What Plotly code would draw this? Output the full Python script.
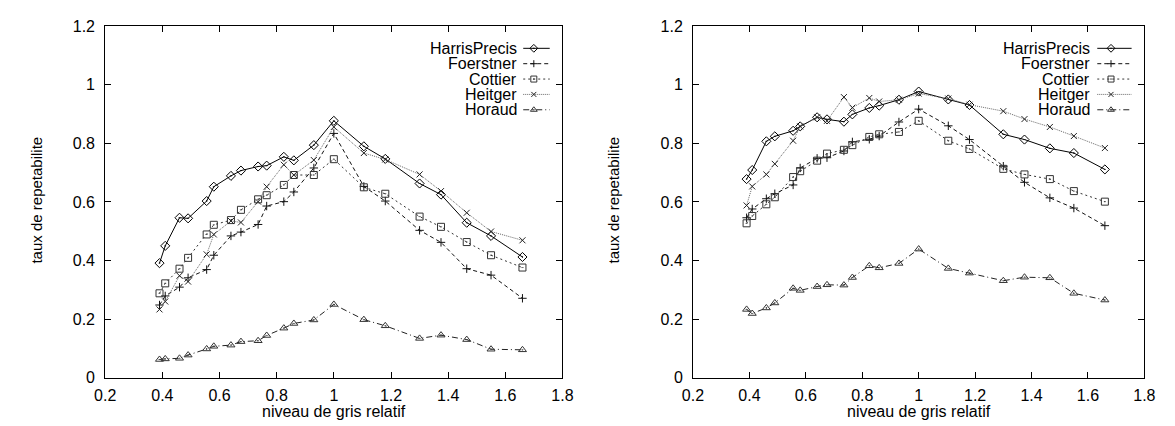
import plotly.graph_objects as go

# ---------------- data ----------------
x_niveau = [0.39, 0.41, 0.46, 0.49, 0.555, 0.58, 0.64, 0.675, 0.735, 0.765, 0.825,
            0.86, 0.93, 1.0, 1.105, 1.18, 1.30, 1.375, 1.465, 1.55, 1.66]

series_names = ["HarrisPrecis", "Foerstner", "Cottier", "Heitger", "Horaud"]

harris_L = [0.391, 0.450, 0.546, 0.544, 0.603, 0.652, 0.689, 0.707, 0.721, 0.724, 0.754,
            0.742, 0.794, 0.877, 0.790, 0.747, 0.663, 0.625, 0.529, 0.484, 0.412]
foerstner_L = [0.248, 0.279, 0.309, 0.341, 0.369, 0.418, 0.484, 0.497, 0.523, 0.586, 0.601,
               0.634, 0.716, 0.834, 0.653, 0.603, 0.503, 0.462, 0.372, 0.350, 0.271]
cottier_L = [0.288, 0.322, 0.372, 0.409, 0.489, 0.522, 0.538, 0.573, 0.609, 0.623, 0.658,
             0.692, 0.692, 0.746, 0.650, 0.628, 0.550, 0.515, 0.463, 0.418, 0.376]
heitger_L = [0.233, 0.260, 0.348, 0.328, 0.421, 0.489, 0.535, 0.530, 0.601, 0.652, 0.727,
             0.692, 0.743, 0.856, 0.767, 0.745, 0.694, 0.637, 0.563, 0.499, 0.469]
horaud_L = [0.062, 0.064, 0.066, 0.077, 0.098, 0.107, 0.111, 0.123, 0.126, 0.144, 0.169,
            0.185, 0.197, 0.250, 0.198, 0.177, 0.134, 0.145, 0.130, 0.097, 0.095]

harris_R = [0.678, 0.709, 0.807, 0.824, 0.843, 0.858, 0.889, 0.882, 0.874, 0.899, 0.921,
            0.929, 0.949, 0.977, 0.950, 0.931, 0.831, 0.813, 0.783, 0.767, 0.711]
foerstner_R = [0.546, 0.576, 0.611, 0.628, 0.658, 0.716, 0.749, 0.751, 0.774, 0.805, 0.814,
               0.825, 0.873, 0.917, 0.860, 0.813, 0.722, 0.667, 0.614, 0.579, 0.519]
cottier_R = [0.527, 0.552, 0.592, 0.616, 0.685, 0.705, 0.741, 0.765, 0.778, 0.794, 0.822,
             0.831, 0.839, 0.877, 0.809, 0.781, 0.713, 0.694, 0.678, 0.637, 0.601]
heitger_R = [0.588, 0.653, 0.694, 0.730, 0.809, 0.858, 0.889, 0.877, 0.958, 0.922, 0.955,
             0.943, 0.949, 0.970, 0.953, 0.932, 0.910, 0.883, 0.856, 0.825, 0.784]
horaud_R = [0.233, 0.219, 0.238, 0.255, 0.305, 0.298, 0.311, 0.317, 0.316, 0.342, 0.382,
            0.375, 0.390, 0.439, 0.373, 0.357, 0.331, 0.343, 0.341, 0.288, 0.265]

x_ticks = [0.2, 0.4, 0.6, 0.8, 1.0, 1.2, 1.4, 1.6, 1.8]
x_tick_labels = ["0.2", "0.4", "0.6", "0.8", "1", "1.2", "1.4", "1.6", "1.8"]
y_ticks = [0, 0.2, 0.4, 0.6, 0.8, 1.0, 1.2]
y_tick_labels = ["0", "0.2", "0.4", "0.6", "0.8", "1", "1.2"]

x_title = "niveau de gris relatif"
y_title = "taux de repetabilite"

# ---------------- styles ----------------
W, H = 1175, 426
FONT = "Liberation Sans, Arial, Helvetica, sans-serif"

styles = [
    dict(color="#000000", mcolor="#000000", dash="solid", symbol="diamond-open-dot", size=7),
    dict(color="#111111", mcolor="#111111", dash="4px,3px", symbol="cross-thin-open", size=6),
    dict(color="#333333", mcolor="#333333", dash="2px,3px", symbol="square-open-dot", size=7),
    dict(color="#666666", mcolor="#222222", dash="1px,1px", symbol="x-thin-open", size=6),
    dict(color="#222222", mcolor="#333333", dash="6px,3px,1px,3px", symbol="triangle-up-open-dot", size=7),
]

panels = [
    dict(xa="x", ya="y", data=[harris_L, foerstner_L, cottier_L, heitger_L, horaud_L],
         dom=[96 / W, 562 / W], leg_text_r=518, leg_s0=522, leg_s1=549, ylab_x=25),
    dict(xa="x2", ya="y2", data=[harris_R, foerstner_R, cottier_R, heitger_R, horaud_R],
         dom=[695 / W, 1155 / W], leg_text_r=1102, leg_s0=1107, leg_s1=1142, ylab_x=613),
]
ydom = [1 - 385 / H, 1 - 19 / H]

fig = go.Figure()
annotations = []

for p in panels:
    for name, vals, st in zip(series_names, p["data"], styles):
        fig.add_trace(go.Scatter(
            x=x_niveau, y=vals, name=name, xaxis=p["xa"], yaxis=p["ya"],
            mode="lines+markers", showlegend=False,
            line=dict(color=st["color"], width=1, dash=st["dash"]),
            marker=dict(symbol=st["symbol"], size=st["size"], color=st["mcolor"],
                        line=dict(color=st["mcolor"], width=1)),
        ))
    # custom gnuplot-like key: text then sample
    for k, (name, st) in enumerate(zip(series_names, styles)):
        yrow = 42 + 16 * k
        annotations.append(dict(
            x=p["leg_text_r"] / W, y=1 - yrow / H, xref="paper", yref="paper",
            text=name, showarrow=False, xanchor="right", yanchor="middle",
            font=dict(family=FONT, size=16, color="#000"),
        ))
        xm = p["leg_s0"] + 0.4 * (p["leg_s1"] - p["leg_s0"])
        fig.add_trace(go.Scatter(
            x=[p["leg_s0"], p["leg_s1"]], y=[yrow, yrow], xaxis="x3", yaxis="y3",
            mode="lines", showlegend=False, hoverinfo="skip",
            line=dict(color=st["color"], width=1, dash=st["dash"]),
        ))
        fig.add_trace(go.Scatter(
            x=[xm], y=[yrow], xaxis="x3", yaxis="y3",
            mode="markers", showlegend=False, hoverinfo="skip",
            marker=dict(symbol=st["symbol"], size=st["size"] - 1, color=st["mcolor"],
                        line=dict(color=st["mcolor"], width=1)),
        ))
    # axis titles
    annotations.append(dict(
        x=(p["dom"][0] + p["dom"][1]) / 2, y=1 - 420 / H, xref="paper", yref="paper",
        text=x_title, showarrow=False, xanchor="center", yanchor="middle",
        font=dict(family=FONT, size=16, color="#000"),
    ))
    annotations.append(dict(
        x=p["ylab_x"] / W, y=1 - 200 / H, xref="paper", yref="paper",
        text=y_title, showarrow=False, xanchor="center", yanchor="middle", textangle=-90,
        font=dict(family=FONT, size=15, color="#000"),
    ))

axis_common = dict(
    showline=True, linecolor="#000", linewidth=1, mirror="ticks",
    ticks="inside", ticklen=6, tickcolor="#000", tickwidth=1,
    showgrid=False, zeroline=False,
    tickfont=dict(family=FONT, size=16, color="#000"),
    fixedrange=True,
)

fig.update_layout(
    width=W, height=H,
    margin=dict(l=0, r=0, t=0, b=0),
    paper_bgcolor="white", plot_bgcolor="rgba(0,0,0,0)",
    showlegend=False,
    xaxis=dict(domain=panels[0]["dom"], range=[0.2, 1.8], tickvals=x_ticks,
               ticktext=x_tick_labels, anchor="y", ticklabelstandoff=3, **axis_common),
    yaxis=dict(domain=ydom, range=[0, 1.2], tickvals=y_ticks, ticktext=y_tick_labels,
               anchor="x", ticklabelstandoff=6, **axis_common),
    xaxis2=dict(domain=panels[1]["dom"], range=[0.2, 1.8], tickvals=x_ticks,
                ticktext=x_tick_labels, anchor="y2", ticklabelstandoff=3, **axis_common),
    yaxis2=dict(domain=ydom, range=[0, 1.2], tickvals=y_ticks, ticktext=y_tick_labels,
                anchor="x2", ticklabelstandoff=6, **axis_common),
    xaxis3=dict(domain=[0, 1], range=[0, W], visible=False, anchor="y3", fixedrange=True),
    yaxis3=dict(domain=[0, 1], range=[H, 0], visible=False, anchor="x3", fixedrange=True),
    annotations=annotations,
)

fig.write_html("out.html")
